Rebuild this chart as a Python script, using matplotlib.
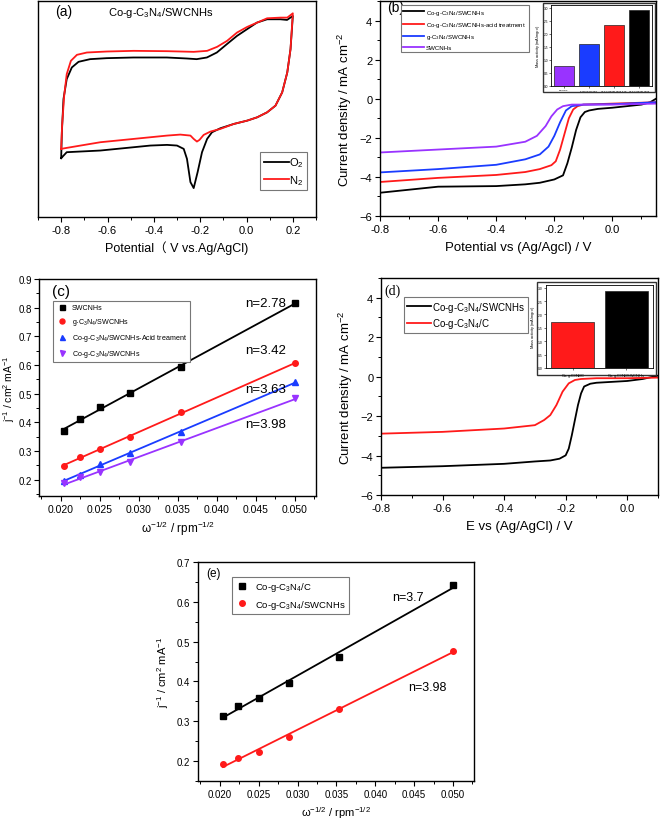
import numpy as np
import matplotlib
matplotlib.use("Agg")
import matplotlib.pyplot as plt
from matplotlib.ticker import MultipleLocator, FuncFormatter
from matplotlib.patches import Rectangle

plt.rcParams['font.family'] = ['Liberation Sans', 'Noto Sans CJK SC', 'DejaVu Sans']
plt.rcParams['mathtext.fontset'] = 'custom'
plt.rcParams['mathtext.rm'] = 'Liberation Sans'
plt.rcParams['mathtext.it'] = 'Liberation Sans:italic'
plt.rcParams['mathtext.bf'] = 'Liberation Sans:bold'
plt.rcParams['xtick.direction'] = 'out'
plt.rcParams['ytick.direction'] = 'out'

PURPLE = '#9933ff'
BLUE = '#1a3cff'
RED = '#ff1a1a'
BLACK = '#000000'

# ---------------- (a) CV data ----------------
cv_o2_up_x = [-0.8, -0.797, -0.790, -0.776, -0.754, -0.725, -0.675, -0.603, -0.488, -0.344, -0.258, -0.215,
              -0.171, -0.128, -0.085, -0.041, 0.002, 0.045, 0.089, 0.146, 0.175, 0.2]
cv_o2_up_y = [1.77, 2.55, 3.55, 4.15, 4.50, 4.67, 4.75, 4.78, 4.80, 4.80, 4.77, 4.75,
              4.80, 4.95, 5.20, 5.45, 5.65, 5.85, 5.95, 5.95, 5.93, 6.05]
cv_o2_dn_x = [0.2, 0.190, 0.176, 0.154, 0.125, 0.089, 0.046, 0.003, -0.055, -0.113, -0.149, -0.170, -0.192,
              -0.211, -0.228, -0.242, -0.257, -0.271, -0.300, -0.343, -0.415, -0.487, -0.631, -0.776, -0.8]
cv_o2_dn_y = [6.05, 5.05, 4.35, 3.75, 3.35, 3.15, 3.00, 2.90, 2.80, 2.67, 2.55, 2.35, 1.95,
              1.35, 0.87, 1.05, 1.75, 2.05, 2.15, 2.17, 2.15, 2.10, 2.00, 1.95, 1.77]
cv_n2_up_x = [-0.8, -0.796, -0.787, -0.776, -0.758, -0.732, -0.689, -0.603, -0.487, -0.343, -0.228, -0.170,
              -0.127, -0.084, -0.041, 0.003, 0.046, 0.089, 0.147, 0.176, 0.2]
cv_n2_up_y = [2.05, 2.75, 3.65, 4.30, 4.70, 4.88, 4.95, 4.98, 5.00, 4.99, 4.97, 5.00,
              5.12, 5.30, 5.55, 5.72, 5.85, 5.98, 6.00, 6.00, 6.13]
cv_n2_dn_x = [0.2, 0.190, 0.176, 0.154, 0.125, 0.089, 0.046, 0.003, -0.055, -0.113, -0.156, -0.185, -0.203,
              -0.214, -0.228, -0.242, -0.286, -0.343, -0.487, -0.631, -0.776, -0.8]
cv_n2_dn_y = [6.13, 5.05, 4.35, 3.75, 3.35, 3.15, 3.00, 2.90, 2.80, 2.65, 2.57, 2.47, 2.32,
              2.27, 2.35, 2.45, 2.48, 2.45, 2.35, 2.25, 2.08, 2.05]

# ---------------- (b) LSV data ----------------
lsv_b_names = ['Co-g-C$_3$N$_4$/SWCNHs', 'Co-g-C$_3$N$_4$/SWCNHs-acid treatment', 'g-C$_3$N$_4$/SWCNHs', 'SWCNHs']
lsv_b1_x = [-0.8, -0.6, -0.4, -0.3, -0.25, -0.2, -0.17, -0.155, -0.14, -0.125, -0.11, -0.095, -0.08, -0.05, 0.0, 0.05, 0.1, 0.13, 0.15]
lsv_b1_y = [-4.81, -4.5, -4.47, -4.38, -4.3, -4.13, -3.92, -3.3, -2.5, -1.6, -0.95, -0.68, -0.6, -0.52, -0.46, -0.38, -0.3, -0.18, 0.0]
lsv_b2_x = [-0.8, -0.6, -0.4, -0.3, -0.25, -0.21, -0.195, -0.18, -0.165, -0.15, -0.135, -0.12, -0.1, 0.0, 0.15]
lsv_b2_y = [-4.26, -4.05, -3.9, -3.75, -3.6, -3.4, -3.2, -2.6, -1.8, -1.0, -0.55, -0.38, -0.3, -0.25, -0.18]
lsv_b3_x = [-0.8, -0.6, -0.4, -0.3, -0.25, -0.22, -0.2, -0.18, -0.16, -0.14, -0.1, 0.0, 0.15]
lsv_b3_y = [-3.77, -3.6, -3.38, -3.1, -2.85, -2.45, -1.9, -1.2, -0.6, -0.38, -0.3, -0.28, -0.18]
lsv_b4_x = [-0.8, -0.6, -0.4, -0.3, -0.26, -0.23, -0.21, -0.19, -0.17, -0.14, 0.0, 0.15]
lsv_b4_y = [-2.75, -2.6, -2.45, -2.2, -1.9, -1.4, -0.9, -0.55, -0.38, -0.3, -0.3, -0.25]
mass_b_labels = ['SWCNHs', 'g-C$_3$N$_4$/SWCNHs', 'Co-g-C$_3$N$_4$/SWCNHs-acid', 'Co-g-C$_3$N$_4$/SWCNHs']
mass_b_values = [0.78, 1.59, 2.35, 2.89]

# ---------------- (c) K-L data ----------------
omega = [0.0204, 0.0224, 0.025, 0.0289, 0.0354, 0.05]
kl_c_names = ['SWCNHs', 'g-C$_3$N$_4$/SWCNHs', 'Co-g-C$_3$N$_4$/SWCNHs-Acid treament', 'Co-g-C$_3$N$_4$/SWCNHs']
kl_c1 = [0.369, 0.412, 0.452, 0.503, 0.592, 0.816]
kl_c2 = [0.249, 0.278, 0.307, 0.348, 0.435, 0.606]
kl_c3 = [0.196, 0.217, 0.255, 0.293, 0.365, 0.540]
kl_c4 = [0.188, 0.208, 0.226, 0.261, 0.330, 0.485]
n_c = ['n=2.78', 'n=3.42', 'n=3.63', 'n=3.98']

# ---------------- (d) LSV data ----------------
lsv_d_names = ['Co-g-C$_3$N$_4$/SWCNHs', 'Co-g-C$_3$N$_4$/C']
lsv_d1_x = [-0.8, -0.6, -0.4, -0.3, -0.25, -0.22, -0.2, -0.19, -0.18, -0.17, -0.16, -0.15, -0.14, -0.12, -0.1, 0.0, 0.05, 0.1]
lsv_d1_y = [-4.62, -4.54, -4.42, -4.3, -4.25, -4.16, -3.99, -3.65, -2.97, -2.2, -1.44, -0.85, -0.5, -0.36, -0.31, -0.22, -0.12, 0.05]
lsv_d2_x = [-0.8, -0.6, -0.4, -0.3, -0.27, -0.25, -0.23, -0.21, -0.19, -0.17, -0.15, -0.1, 0.0, 0.1]
lsv_d2_y = [-2.89, -2.8, -2.63, -2.46, -2.2, -1.95, -1.44, -0.76, -0.34, -0.17, -0.12, -0.08, -0.08, -0.05]
mass_d_labels = ['Co-g-C$_3$N$_4$/C', 'Co-g-C$_3$N$_4$/SWCNHs']
mass_d_values = [1.70, 2.88]

# ---------------- (e) K-L data ----------------
kl_e_names = ['Co-g-C$_3$N$_4$/C', 'Co-g-C$_3$N$_4$/SWCNHs']
kl_e1 = [0.314, 0.339, 0.358, 0.396, 0.462, 0.643]
kl_e2 = [0.192, 0.209, 0.224, 0.261, 0.330, 0.477]
n_e = ['n=3.7', 'n=3.98']

W, H = 661, 820
fig = plt.figure(figsize=(6.61, 8.2), dpi=100)


def ax_px(l, t, r, b):
    return fig.add_axes([l / W, 1 - b / H, (r - l) / W, (b - t) / H])


def style(ax, fs=7.5, lw=1.0):
    for s in ax.spines.values():
        s.set_linewidth(lw)
    ax.tick_params(which='major', length=3.5, width=0.8, labelsize=fs, pad=2)
    ax.tick_params(which='minor', length=2, width=0.7)


f1 = FuncFormatter(lambda v, p: f'{v:.1f}')
f3 = FuncFormatter(lambda v, p: f'{v:.3f}')

# ---- (a)
axa = ax_px(38, 2, 316, 218)
style(axa, 8)
axa.plot(cv_o2_up_x + cv_o2_dn_x, cv_o2_up_y + cv_o2_dn_y, color=BLACK, lw=1.3, label='O$_2$')
axa.plot(cv_n2_up_x + cv_n2_dn_x, cv_n2_up_y + cv_n2_dn_y, color=RED, lw=1.3, label='N$_2$')
axa.set_xlim(-0.9, 0.3)
axa.set_ylim(0, 6.5)
axa.set_yticks([])
axa.xaxis.set_major_locator(MultipleLocator(0.2))
axa.xaxis.set_minor_locator(MultipleLocator(0.1))
axa.xaxis.set_major_formatter(f1)
axa.set_xlabel('Potential（ V vs.Ag/AgCl)', fontsize=9, labelpad=4)
axa.text(0.06, 0.935, '(a)', transform=axa.transAxes, fontsize=10)
axa.text(0.44, 0.935, 'Co-g-C$_3$N$_4$/SWCNHs', transform=axa.transAxes, fontsize=8, ha='center')
leg = axa.legend(loc='upper left', bbox_to_anchor=(0.78, 0.325), fontsize=8, handlelength=2.3,
                 handletextpad=0.0, fancybox=False, edgecolor='#777777', borderpad=0.3, labelspacing=0.3,
                 framealpha=1)
leg.get_frame().set_linewidth(0.8)

# ---- (b)
axb = ax_px(380, 2, 656, 217)
style(axb, 8)
for xs, ys, c, nm in [(lsv_b1_x, lsv_b1_y, BLACK, lsv_b_names[0]), (lsv_b2_x, lsv_b2_y, RED, lsv_b_names[1]),
                      (lsv_b3_x, lsv_b3_y, BLUE, lsv_b_names[2]), (lsv_b4_x, lsv_b4_y, PURPLE, lsv_b_names[3])]:
    axb.plot(xs, ys, color=c, lw=1.3, label=nm)
axb.set_xlim(-0.8, 0.15)
axb.set_ylim(-6, 5)
axb.xaxis.set_major_locator(MultipleLocator(0.2))
axb.xaxis.set_minor_locator(MultipleLocator(0.1))
axb.yaxis.set_major_locator(MultipleLocator(2))
axb.yaxis.set_minor_locator(MultipleLocator(1))
axb.xaxis.set_major_formatter(f1)
axb.set_xlabel('Potential vs (Ag/Agcl) / V', fontsize=9.5, labelpad=5)
axb.set_ylabel('Current density / mA cm$^{-2}$', fontsize=9.5, labelpad=4)
axb.text(0.025, 0.955, '(b)', transform=axb.transAxes, fontsize=10)
leg = axb.legend(loc='upper left', bbox_to_anchor=(0.065, 0.995), fontsize=4.4, handlelength=3.4,
                 handletextpad=0.3, fancybox=False, edgecolor='#777777', borderpad=0.4, labelspacing=0.55,
                 framealpha=1)
leg.get_frame().set_linewidth(0.8)

fig.add_artist(Rectangle((543 / W, 1 - 93 / H), (655 - 543) / W, (93 - 4) / H, transform=fig.transFigure,
                         facecolor='white', edgecolor='#333333', lw=1.0, zorder=3))
axbi = ax_px(551, 6, 652, 87)
axbi.set_zorder(4)
axbi.bar(range(4), mass_b_values, width=0.8, color=[PURPLE, BLUE, RED, BLACK], edgecolor='#222222', lw=0.5)
axbi.set_xlim(-0.5, 3.5)
axbi.set_ylim(0, 3.1)
axbi.set_yticks([0, 0.5, 1.0, 1.5, 2.0, 2.5, 3.0])
axbi.yaxis.set_major_formatter(f1)
axbi.set_xticks(range(4))
axbi.set_xticklabels(mass_b_labels, fontsize=1.6)
axbi.tick_params(axis='y', labelsize=2.3, length=1.2, width=0.4, pad=1)
axbi.tick_params(axis='x', length=1.2, width=0.4, pad=1)
axbi.set_ylabel('Mass activity (mA/mg$_{cat}$)', fontsize=2.8, labelpad=1)
for s in axbi.spines.values():
    s.set_linewidth(0.6)

# ---- (c)
axc = ax_px(39, 280, 316, 497)
style(axc, 7.5)
axc.tick_params(axis='y', labelsize=7, pad=1.5)
markers_c = [('s', BLACK), ('o', RED), ('^', BLUE), ('v', PURPLE)]
for ys, (m, c), nm in zip([kl_c1, kl_c2, kl_c3, kl_c4], markers_c, kl_c_names):
    axc.plot(omega, ys, ls='none', marker=m, ms=4, color=c, label=nm)
    k, b0 = np.polyfit(omega, ys, 1)
    xx = np.array([min(omega), max(omega)])
    axc.plot(xx, k * xx + b0, color=c, lw=1.3)
axc.set_xlim(0.0172, 0.0527)
axc.set_ylim(0.143, 0.9)
axc.xaxis.set_major_locator(MultipleLocator(0.005))
axc.xaxis.set_minor_locator(MultipleLocator(0.0025))
axc.yaxis.set_major_locator(MultipleLocator(0.1))
axc.yaxis.set_minor_locator(MultipleLocator(0.05))
axc.xaxis.set_major_formatter(f3)
axc.yaxis.set_major_formatter(f1)
axc.set_xlabel('ω$^{-1/2}$ / rpm$^{-1/2}$', fontsize=8.5, labelpad=4)
axc.set_ylabel('j$^{-1}$ / cm$^{2}$ mA$^{-1}$', fontsize=7.5, labelpad=1)
axc.text(0.047, 0.925, '(c)', transform=axc.transAxes, fontsize=11)
for txt, yy in zip(n_c, [0.816, 0.652, 0.516, 0.394]):
    axc.text(0.0463, yy, txt, fontsize=9.5, ha='center', va='center')
leg = axc.legend(loc='upper left', bbox_to_anchor=(0.038, 0.915), fontsize=5.1, handlelength=1.5,
                 handletextpad=0.7, fancybox=False, edgecolor='#777777', borderpad=0.45, labelspacing=0.7,
                 framealpha=1, markerscale=0.9)
leg.get_frame().set_linewidth(0.8)

# ---- (d)
axd = ax_px(381, 279, 658, 496)
style(axd, 8)
axd.plot(lsv_d1_x, lsv_d1_y, color=BLACK, lw=1.3, label=lsv_d_names[0])
axd.plot(lsv_d2_x, lsv_d2_y, color=RED, lw=1.3, label=lsv_d_names[1])
axd.set_xlim(-0.8, 0.1)
axd.set_ylim(-6, 5)
axd.xaxis.set_major_locator(MultipleLocator(0.2))
axd.xaxis.set_minor_locator(MultipleLocator(0.1))
axd.yaxis.set_major_locator(MultipleLocator(2))
axd.yaxis.set_minor_locator(MultipleLocator(1))
axd.xaxis.set_major_formatter(f1)
axd.set_xlabel('E vs (Ag/AgCl) / V', fontsize=9.5, labelpad=5)
axd.set_ylabel('Current density / mA cm$^{-2}$', fontsize=9.5, labelpad=4)
axd.text(0.012, 0.925, '(d)', transform=axd.transAxes, fontsize=10, family='Liberation Serif')
leg = axd.legend(loc='upper left', bbox_to_anchor=(0.065, 0.935), fontsize=7.0, handlelength=2.5,
                 handletextpad=0.1, fancybox=False, edgecolor='#777777', borderpad=0.3, labelspacing=0.25,
                 framealpha=1)
leg.get_frame().set_linewidth(0.8)

fig.add_artist(Rectangle((537 / W, 1 - 376 / H), (656 - 537) / W, (376 - 283) / H, transform=fig.transFigure,
                         facecolor='white', edgecolor='#333333', lw=1.0, zorder=3))
axdi = ax_px(546, 286, 653, 369)
axdi.set_zorder(4)
axdi.bar(range(2), mass_d_values, width=0.8, color=[RED, BLACK], edgecolor='#222222', lw=0.5)
axdi.set_xlim(-0.5, 1.5)
axdi.set_ylim(0, 3.1)
axdi.set_yticks([0, 0.5, 1.0, 1.5, 2.0, 2.5, 3.0])
axdi.yaxis.set_major_formatter(f1)
axdi.set_xticks(range(2))
axdi.set_xticklabels(mass_d_labels, fontsize=2.8)
axdi.tick_params(axis='y', labelsize=2.4, length=1.2, width=0.4, pad=1)
axdi.tick_params(axis='x', length=1.2, width=0.4, pad=1)
axdi.set_ylabel('Mass activity (mA/mg$_{cat}$)', fontsize=2.8, labelpad=1)
for s in axdi.spines.values():
    s.set_linewidth(0.6)

# ---- (e)
axe = ax_px(198, 563, 474, 782)
style(axe, 7)
for ys, (m, c), nm in zip([kl_e1, kl_e2], [('s', BLACK), ('o', RED)], kl_e_names):
    axe.plot(omega, ys, ls='none', marker=m, ms=4, color=c, label=nm)
    k, b0 = np.polyfit(omega, ys, 1)
    xx = np.array([min(omega), max(omega)])
    axe.plot(xx, k * xx + b0, color=c, lw=1.3)
axe.set_xlim(0.0172, 0.0527)
axe.set_ylim(0.15, 0.7)
axe.xaxis.set_major_locator(MultipleLocator(0.005))
axe.xaxis.set_minor_locator(MultipleLocator(0.0025))
axe.yaxis.set_major_locator(MultipleLocator(0.1))
axe.yaxis.set_minor_locator(MultipleLocator(0.05))
axe.xaxis.set_major_formatter(f3)
axe.yaxis.set_major_formatter(f1)
axe.set_xlabel('ω$^{-1/2}$ / rpm$^{-1/2}$', fontsize=8, labelpad=4)
axe.set_ylabel('j$^{-1}$ / cm$^{2}$ mA$^{-1}$', fontsize=8, labelpad=4)
axe.text(0.03, 0.935, '(e)', transform=axe.transAxes, fontsize=8.5)
axe.text(0.0442, 0.612, n_e[0], fontsize=9, ha='center', va='center')
axe.text(0.0467, 0.386, n_e[1], fontsize=9, ha='center', va='center')
leg = axe.legend(loc='upper left', bbox_to_anchor=(0.105, 0.955), fontsize=6.8, handlelength=1.5,
                 handletextpad=0.6, fancybox=False, edgecolor='#777777', borderpad=0.35, labelspacing=0.5,
                 framealpha=1)
leg.get_frame().set_linewidth(0.8)

fig.savefig('out.png', dpi=100)
